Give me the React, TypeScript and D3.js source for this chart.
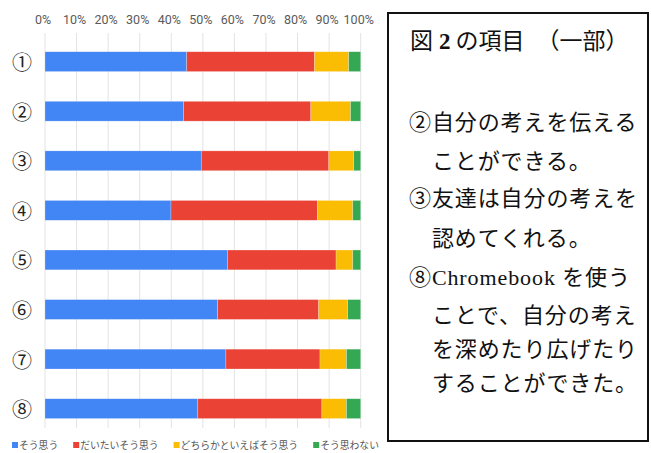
import React from "react";
import * as d3 from "d3";

const categories = ["①", "②", "③", "④", "⑤", "⑥", "⑦", "⑧"];
const seriesNames = ["そう思う", "だいたいそう思う", "どちらかといえばそう思う", "そう思わない"];
const seriesColors = ["#4285F4", "#EA4335", "#FBBC04", "#34A853"];
const souOmou = [44.9, 43.9, 49.5, 39.9, 57.8, 54.7, 57.3, 48.4];
const daitai = [40.5, 40.3, 40.4, 46.4, 34.4, 32.0, 29.8, 39.3];
const dochiraka = [10.8, 12.6, 7.9, 11.2, 5.3, 9.2, 8.4, 7.8];
const souOmowanai = [3.8, 3.2, 2.2, 2.5, 2.5, 4.1, 4.5, 4.5];
const xTicks = [0, 10, 20, 30, 40, 50, 60, 70, 80, 90, 100];

const titleParts = ["図", "2", "の項目", "（一部）"];
const bodyLines = [
  "②自分の考えを伝える",
  "　ことができる。",
  "③友達は自分の考えを",
  "　認めてくれる。",
  "⑧Chromebook を使う",
  "　ことで、自分の考え",
  "　を深めたり広げたり",
  "　することができた。",
];
const bodyBaselines = [130, 169, 206, 246, 285, 323, 357, 391];

export default function App() {
  const W = 651;
  const H = 453;
  const x = d3.scaleLinear().domain([0, 100]).range([45, 360.7]);
  const y = d3.scaleBand<string>().domain(categories).range([22, 448.3]).paddingInner(0.6).paddingOuter(0.6);

  const rows = categories.map((c, i) => ({
    cat: c,
    v0: souOmou[i],
    v1: daitai[i],
    v2: dochiraka[i],
    v3: souOmowanai[i],
  }));
  const stack = d3.stack<any>().keys(["v0", "v1", "v2", "v3"])(rows);

  const legendCharW = 9.8;
  let lx = 12;
  const legendItems = seriesNames.map((n, i) => {
    const item = { n, x: lx, color: seriesColors[i] };
    lx += 7 + n.length * legendCharW + 15;
    return item;
  });

  const boxFont = "'Liberation Serif', 'Noto Sans CJK JP', serif";

  return (
    <svg width={W} height={H} style={{ position: "absolute", left: 0, top: 0, background: "#fff" }}>
      <defs>
        <clipPath id="chartClip">
          <rect x={0} y={0} width={381} height={H} />
        </clipPath>
      </defs>
      <rect x={0} y={0} width={W} height={H} fill="#fff" />
      <g clipPath="url(#chartClip)">
        {xTicks.map((t) => (
          <g key={t}>
            <line x1={x(t)} x2={x(t)} y1={33} y2={428} stroke="#e3e3e3" strokeWidth={1} />
            <text
              x={x(t) - 2}
              y={23.5}
              textAnchor="middle"
              fontFamily="Roboto, sans-serif"
              fontSize={12.5}
              fill="#5a5a5a"
            >
              {t}%
            </text>
          </g>
        ))}
        {stack.map((s, si) => (
          <g key={si} fill={seriesColors[si]}>
            {s.map((d: any, i: number) => (
              <rect
                key={i}
                x={x(d[0])}
                y={y(categories[i])}
                width={Math.max(0, x(d[1]) - x(d[0]))}
                height={y.bandwidth()}
                stroke="#fff"
                strokeOpacity={0.4}
                strokeWidth={0.6}
              />
            ))}
          </g>
        ))}
        {categories.map((c) => (
          <text
            key={c}
            x={22}
            y={(y(c) as number) + y.bandwidth() / 2}
            textAnchor="middle"
            dominantBaseline="central"
            fontFamily="'Noto Sans CJK JP', sans-serif"
            fontSize={20}
            fill="#222"
          >
            {c}
          </text>
        ))}
        {legendItems.map((l) => (
          <g key={l.n}>
            <rect x={l.x} y={442} width={6} height={6} fill={l.color} />
            <text x={l.x + 7} y={449} fontFamily="'Noto Sans CJK JP', sans-serif" fontSize={9.8} fill="#555">
              {l.n}
            </text>
          </g>
        ))}
      </g>
      <rect x={388} y={13} width={260} height={428} fill="none" stroke="#111" strokeWidth={2} />
      <text x={410} y={49} fontFamily={boxFont} fontSize={23} fill="#111">
        <tspan>{titleParts[0]}</tspan>
        <tspan dx={6} fontWeight="bold">{titleParts[1]}</tspan>
        <tspan dx={5}>{titleParts[2]}</tspan>
        <tspan dx={12}>{titleParts[3]}</tspan>
      </text>
      {bodyLines.map((l, i) => (
        <text key={i} x={409} y={bodyBaselines[i]} fontFamily={boxFont} fontSize={22} letterSpacing={0.9} fill="#111">
          {l}
        </text>
      ))}
    </svg>
  );
}
